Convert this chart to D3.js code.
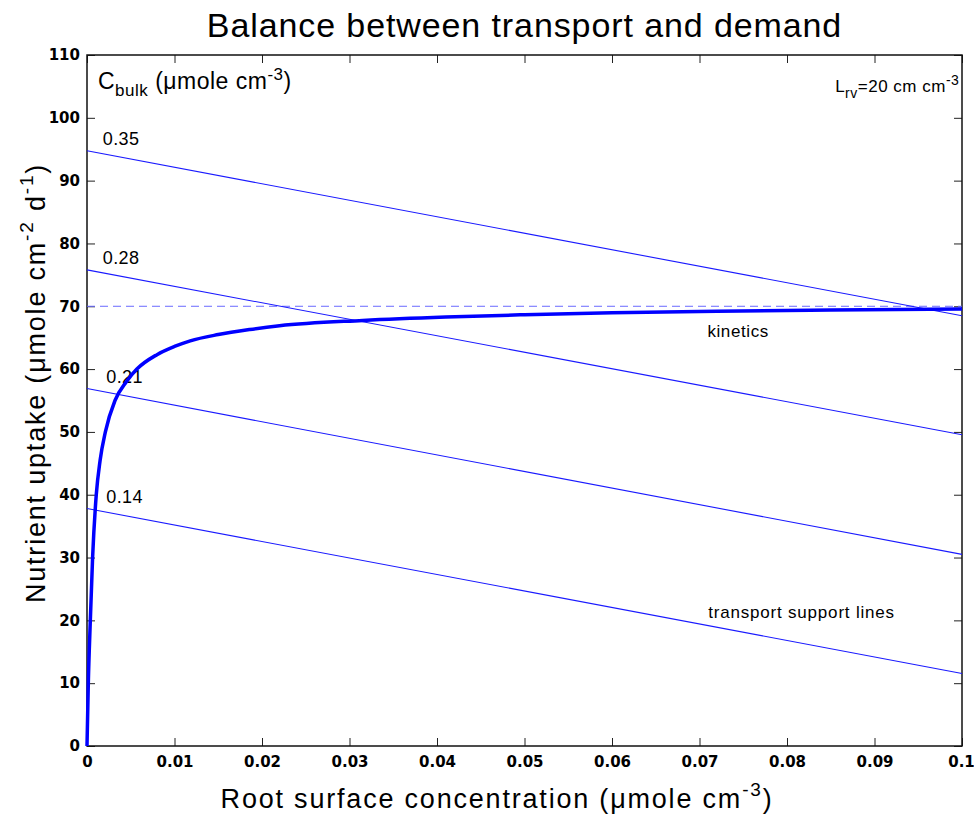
<!DOCTYPE html>
<html>
<head>
<meta charset="utf-8">
<script src="https://cdn.jsdelivr.net/npm/d3@7/dist/d3.min.js"></script>
<style>
  body { margin: 0; background: #fff; }
  text { font-family: "Liberation Sans", Arial, sans-serif; fill: #000; }
  .tick text { font-family: "DejaVu Sans", sans-serif; font-weight: bold; font-size: 15px; letter-spacing: 0; }
</style>
</head>
<body>
<div id="chart"></div>
<script>
// Canvas size
var width = 974;
var height = 819;

// Plot area edges
var margin = {top: 55, right: 12, bottom: 73, left: 87};

// Kinetics curve (root surface conc, uptake)
var kinX = [0, 0.00015, 0.00038, 0.00064, 0.00106, 0.0015, 0.0021, 0.0032, 0.0045, 0.0057,
            0.008, 0.01, 0.0118, 0.015, 0.0186, 0.022, 0.0315, 0.041, 0.05, 0.06, 0.072, 0.085, 0.1];
var kinY = [0, 10, 20, 30, 40, 45.5, 50, 55, 58, 60,
            62.3, 63.6, 64.5, 65.5, 66.3, 66.9, 67.75, 68.3, 68.65, 68.95, 69.2, 69.4, 69.55];

// Transport support lines, one per bulk concentration
var cBulk = ["0.35", "0.28", "0.21", "0.14"];
var supportStart = [94.75, 75.8, 56.9, 37.8];   // uptake at x = 0
var supportEnd = [68.5, 49.55, 30.5, 11.55];    // uptake at x = 0.1

// Maximum uptake (dashed line)
var imax = 70;

// Axis ticks
var xTicks = [0, 0.01, 0.02, 0.03, 0.04, 0.05, 0.06, 0.07, 0.08, 0.09, 0.1];
var yTicks = [0, 10, 20, 30, 40, 50, 60, 70, 80, 90, 100, 110];

var svg = d3.select("#chart").append("svg")
    .attr("width", width)
    .attr("height", height);

var x = d3.scaleLinear().domain([0, 0.1]).range([margin.left, width - margin.right]);
var y = d3.scaleLinear().domain([0, 110]).range([height - margin.bottom, margin.top]);

var x0 = x.range()[0], x1 = x.range()[1];
var y0 = y.range()[0], y1 = y.range()[1];

// Axes: MATLAB style, ticks pointing inward
var xFmt = function(d) { return d === 0 ? "0" : String(+d.toFixed(2)); };

var xAxis = svg.append("g")
    .attr("transform", "translate(0," + y0 + ")")
    .call(d3.axisBottom(x).tickValues(xTicks).tickFormat(xFmt).tickSizeInner(-8).tickSizeOuter(0).tickPadding(10));

// last label sits against the window edge
xAxis.selectAll(".tick text").filter(function(d) { return d === 0.1; }).attr("dx", -1);

svg.append("g")
    .attr("transform", "translate(" + x0 + ",0)")
    .call(d3.axisLeft(y).tickValues(yTicks).tickSizeInner(-8).tickSizeOuter(0).tickPadding(7));

svg.append("g")
    .attr("transform", "translate(0," + y1 + ")")
    .call(d3.axisTop(x).tickValues(xTicks).tickFormat("").tickSizeInner(-8).tickSizeOuter(0));

svg.append("g")
    .attr("transform", "translate(" + x1 + ",0)")
    .call(d3.axisRight(y).tickValues(yTicks).tickFormat("").tickSizeInner(-8).tickSizeOuter(0));

svg.selectAll(".domain").remove();
svg.selectAll(".tick line").attr("stroke", "#222");

// Box
svg.append("rect")
    .attr("x", x0)
    .attr("y", y1)
    .attr("width", x1 - x0)
    .attr("height", y0 - y1)
    .attr("fill", "none")
    .attr("stroke", "#111")
    .attr("stroke-width", 1.5);

// Dashed maximum uptake line
svg.append("line")
    .attr("x1", x(0))
    .attr("x2", x(0.1))
    .attr("y1", y(imax))
    .attr("y2", y(imax))
    .attr("stroke", "#6a6aff")
    .attr("stroke-width", 1)
    .attr("stroke-dasharray", "8,5");

// Transport support lines
svg.selectAll(".support")
    .data(cBulk)
    .enter().append("line")
      .attr("class", "support")
      .attr("x1", x(0))
      .attr("x2", x(0.1))
      .attr("y1", function(d, i) { return y(supportStart[i]); })
      .attr("y2", function(d, i) { return y(supportEnd[i]); })
      .attr("stroke", "#1a1aff")
      .attr("stroke-width", 1.1);

// Labels of the support lines, just above each line's start
svg.selectAll(".cLabel")
    .data(cBulk)
    .enter().append("text")
      .attr("class", "cLabel")
      .attr("x", function(d, i) { return i < 2 ? x(0.0018) : x(0.0022); })
      .attr("y", function(d, i) { return y(supportStart[i]) - 5.5; })
      .style("font-size", "18px")
      .style("letter-spacing", "0.4px")
      .text(function(d) { return d; });

// Kinetics curve
var line = d3.line()
    .x(function(d) { return x(d[0]); })
    .y(function(d) { return y(d[1]); })
    .curve(d3.curveMonotoneX);

svg.append("path")
    .datum(d3.zip(kinX, kinY))
    .attr("d", line)
    .attr("fill", "none")
    .attr("stroke", "#0000ff")
    .attr("stroke-width", 3.5)
    .attr("stroke-linejoin", "round");

// Annotations
var cb = svg.append("text")
    .attr("x", x(0.00125))
    .attr("y", y(104.6))
    .style("font-size", "23px")
    .style("letter-spacing", "0.5px");
cb.append("tspan").text("C");
cb.append("tspan").attr("dy", 7).style("font-size", "17px").text("bulk");
cb.append("tspan").attr("dy", -7).text(" (μmole cm");
cb.append("tspan").attr("dy", -9).style("font-size", "17px").text("-3");
cb.append("tspan").attr("dy", 9).text(")");

var lrv = svg.append("text")
    .attr("x", x(0.0855))
    .attr("y", y(104.1))
    .style("font-size", "17px")
    .style("letter-spacing", "0.5px");
lrv.append("tspan").text("L");
lrv.append("tspan").attr("dy", 6).style("font-size", "14px").text("rv");
lrv.append("tspan").attr("dy", -6).text("=20 cm cm");
lrv.append("tspan").attr("dy", -7).style("font-size", "14px").text("-3");

svg.append("text")
    .attr("x", x(0.0709))
    .attr("y", y(65.1))
    .style("font-size", "17px")
    .style("letter-spacing", "0.6px")
    .text("kinetics");

svg.append("text")
    .attr("x", x(0.0710))
    .attr("y", y(20.4))
    .style("font-size", "17px")
    .style("letter-spacing", "0.8px")
    .text("transport support lines");

// Title
svg.append("text")
    .attr("x", (x0 + x1) / 2)
    .attr("y", 37)
    .attr("text-anchor", "middle")
    .style("font-size", "34px")
    .style("letter-spacing", "0.9px")
    .text("Balance between transport and demand");

// X axis label
var xl = svg.append("text")
    .attr("x", 497)
    .attr("y", 808)
    .attr("text-anchor", "middle")
    .style("font-size", "27px")
    .style("letter-spacing", "1.8px");
xl.append("tspan").text("Root surface concentration (μmole cm");
xl.append("tspan").attr("dy", -12).style("font-size", "19px").text("-3");
xl.append("tspan").attr("dy", 12).text(")");

// Y axis label
var yl = svg.append("text")
    .attr("transform", "translate(45,383) rotate(-90)")
    .attr("text-anchor", "middle")
    .style("font-size", "27px")
    .style("letter-spacing", "1.8px");
yl.append("tspan").text("Nutrient uptake (μmole cm");
yl.append("tspan").attr("dy", -12).style("font-size", "19px").text("-2");
yl.append("tspan").attr("dy", 12).text(" d");
yl.append("tspan").attr("dy", -12).style("font-size", "19px").text("-1");
yl.append("tspan").attr("dy", 12).text(")");
</script>
</body>
</html>
